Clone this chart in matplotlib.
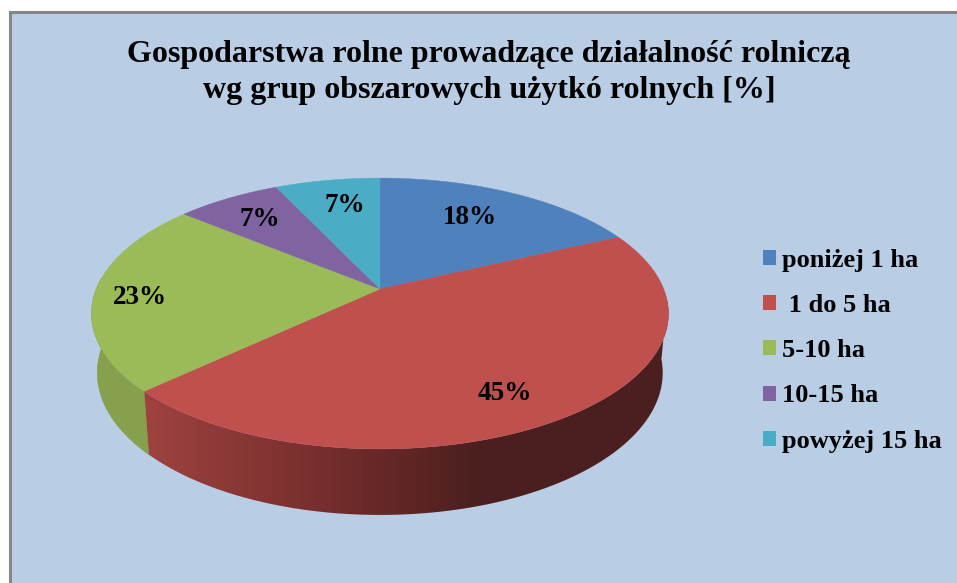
import matplotlib
matplotlib.use('Agg')
import matplotlib.pyplot as plt
import numpy as np
from matplotlib.colors import LinearSegmentedColormap
from matplotlib.patches import Patch, Polygon, Rectangle

categories = ['poniżej 1 ha', ' 1 do 5 ha', '5-10 ha', '10-15 ha', 'powyżej 15 ha']
values = [18, 45, 23, 7, 7]
labels = ['18%', '45%', '23%', '7%', '7%']
colors = ['#4F81BD', '#C0504D', '#9BBB59', '#8064A2', '#4BACC6']
title = 'Gospodarstwa rolne prowadzące działalność rolniczą\nwg grup obszarowych użytkó rolnych [%]'

plt.rcParams['font.family'] = ['Liberation Serif', 'DejaVu Serif']

# perspective of the tilted disc, in pixels of the picture
CX, CY = 380, 289
A, B, K = 283.7, 131, 0.181


def top_xy(theta):
    w = 1 + K * np.cos(theta)
    return CX + A * np.sin(theta) / w, CY - B * np.cos(theta) / w


def bottom_xy(theta):
    x, y = top_xy(theta)
    return CX + (x - CX) * 0.98, CY + (y - CY) * 1.05 + 58


fig = plt.figure(figsize=(9.57, 5.83), dpi=100, facecolor='white')
ax = fig.add_axes([0, 0, 1, 1])
ax.axis('off')

ax.add_patch(Rectangle((9.5, 12), 948, 571, facecolor='#B9CDE5', edgecolor='none'))
ax.plot([9.5, 9.5, 957], [583, 12, 12], color='#868686', linewidth=2.2, solid_joinstyle='miter')

edges = np.cumsum([0] + values) / sum(values) * 2 * np.pi

# side wall of the red slice, shaded from left to right
side_cmap = LinearSegmentedColormap.from_list('side', [(0, '#A04340'), (0.31, '#883735'), (0.63, '#6E2B2A'), (1, '#4B1F1F')])
red_t = np.linspace(np.radians(95), edges[2] + 0.01, 150)
xs, ys = top_xy(red_t)
xb, yb = bottom_xy(red_t)
im = ax.imshow(np.linspace(0, 1, 256).reshape(1, -1), cmap=side_cmap, extent=(138, 480, 530, 200), aspect='auto', zorder=1)
im_right = ax.imshow([[1]], cmap=side_cmap, vmin=0, vmax=1, extent=(480, 680, 530, 200), aspect='auto', zorder=1)
wall = Polygon(np.c_[np.r_[xs, xb[::-1]], np.r_[ys, yb[::-1]]], closed=True, transform=ax.transData, facecolor='none', edgecolor='none')
ax.add_patch(wall)
im.set_clip_path(wall)
im_right.set_clip_path(wall)

green_t = np.linspace(edges[2], np.radians(275), 30)
xs, ys = top_xy(green_t)
xb, yb = bottom_xy(green_t)
ax.fill(np.r_[xs, xb[::-1]], np.r_[ys, yb[::-1]], color='#87A04E', linewidth=0.5, zorder=2)

# top of the pie
for i, c in enumerate(colors):
    t = np.linspace(edges[i], edges[i + 1], 100)
    x, y = top_xy(t)
    ax.fill(np.r_[CX, x], np.r_[CY, y], color=c, linewidth=0.3, zorder=3)

label_xy = [(470, 218), (505, 393), (140, 297), (260, 220), (345, 206)]
for s, (x, y) in zip(labels, label_xy):
    ax.text(x, y, s, fontsize=19.5, fontweight='bold', ha='center', va='center', color='black', zorder=4)

ax.text(489, 72.5, title, fontsize=23, fontweight='bold', ha='center', va='center', linespacing=1.3, color='black')

handles = [Patch(facecolor=c, edgecolor='none') for c in colors]
ax.legend(handles, categories, loc='upper left', bbox_to_anchor=(763 / 957, 1 - 249 / 583), frameon=False,
          prop={'family': 'Liberation Serif', 'weight': 'bold', 'size': 19}, handlelength=0.5, handleheight=0.5,
          handletextpad=0.23, labelspacing=0.84, borderpad=0, borderaxespad=0)

ax.set_xlim(0, 957)
ax.set_ylim(583, 0)
fig.savefig('out.png', dpi=100)
